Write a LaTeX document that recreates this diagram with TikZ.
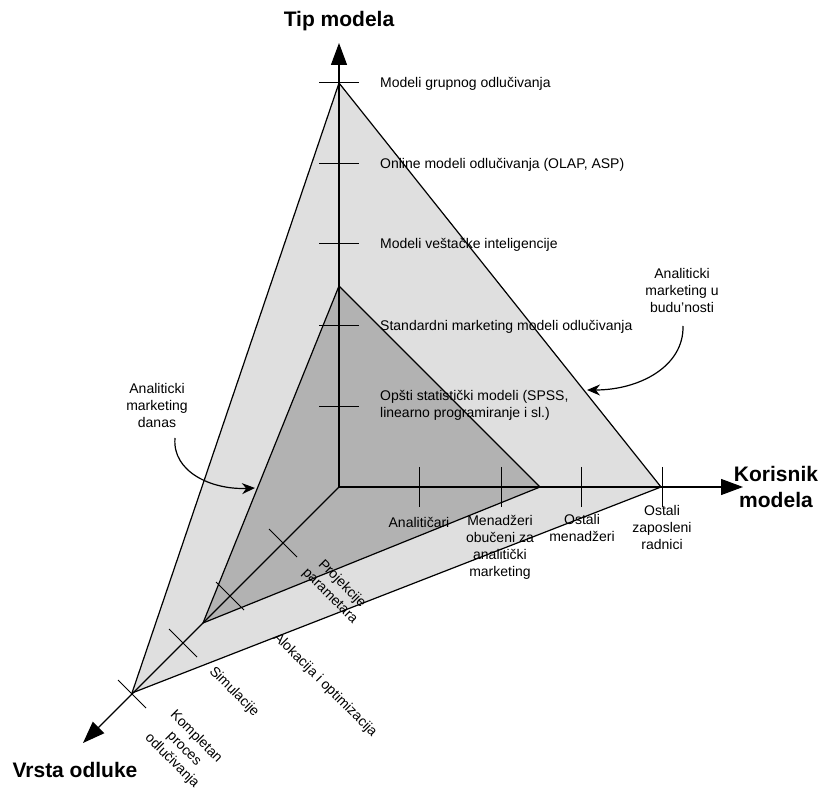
\documentclass[tikz,border=0pt]{standalone}
\usepackage{fontspec}
\setmainfont{Liberation Sans}
\usetikzlibrary{arrows.meta}

\begin{document}
\begin{tikzpicture}[x=1pt, y=-1pt,
    axis/.style={line width=1.3pt, -{Triangle[length=22pt, width=16pt]}},
    edge/.style={line width=1.2pt},
    tick/.style={line width=1pt},
    lbl/.style={font=\fontsize{14}{17}\selectfont, inner sep=0pt, align=center},
    title/.style={font=\fontsize{21}{26}\selectfont\bfseries, inner sep=0pt, align=center},
    callout/.style={line width=1.2pt, -{Stealth[length=13pt, width=11pt]}},
    ]
  \useasboundingbox (0,0) rectangle (820,791);

  % Corners
  \coordinate (O) at (339,487);
  \coordinate (topT) at (339,83);
  \coordinate (rightT) at (661,487);
  \coordinate (leftT) at (132,693);
  \coordinate (topI) at (339,286);
  \coordinate (rightI) at (540,487);
  \coordinate (leftI) at (203,623);
  \coordinate (tipY) at (339,43);
  \coordinate (tipX) at (743,487);
  \coordinate (tipD) at (83,743);

  % Triangles
  \filldraw[edge, fill=gray!25] (topT) -- (rightT) -- (leftT) -- cycle;
  \filldraw[edge, fill=gray!60] (topI) -- (rightI) -- (leftI) -- cycle;

  % Axes
  \draw[axis] (O) -- (tipY);
  \draw[axis] (O) -- (tipX);
  \draw[axis] (O) -- (tipD);

  % Ticks
  \foreach \y in {83,164,244,326,407}
    \draw[tick] (319,\y) -- (359,\y);
  \foreach \x in {419,501,581,662}
    \draw[tick] (\x,467) -- (\x,507);
  \foreach \d in {56,109,156,207}
    \draw[tick] (325-\d,473+\d) -- (353-\d,501+\d);

  % Titles
  \node (tip) [title] at (339,21) {Tip modela};
  \node (korisnik) [title] at (776,487) {Korisnik\\modela};
  \node (vrsta) [title] at (75,770) {Vrsta odluke};

  % Tip modela
  \node (grupni) [lbl, anchor=base west] at (380,88) {Modeli grupnog odlučivanja};
  \node (online) [lbl, anchor=base west] at (380,169) {Online modeli odlučivanja (OLAP, ASP)};
  \node (ai) [lbl, anchor=base west] at (380,249) {Modeli veštačke inteligencije};
  \node (standard) [lbl, anchor=base west] at (380,331) {Standardni marketing modeli odlučivanja};
  \node (opsti) [lbl, anchor=west, align=left] at (380,405) {Opšti statistički modeli (SPSS,\\linearno programiranje i sl.)};

  % Korisnik modela
  \node (analiticari) [lbl] at (419,522) {Analitičari};
  \node (obuceni) [lbl] at (500,547) {Menadžeri\\obučeni za\\analitički\\marketing};
  \node (ostaliM) [lbl] at (582,528) {Ostali\\menadžeri};
  \node (ostaliR) [lbl] at (662,527) {Ostali\\zaposleni\\radnici};

  % Vrsta odluke
  \node (projekcije) [lbl, rotate=-45] at (336,590) {Projekcije\\parametara};
  \node (alokacija) [lbl, rotate=-45] at (325,685) {Alokacija i optimizacija};
  \node (simulacije) [lbl, rotate=-45] at (234,692) {Simulacije};
  \node (kompletan) [lbl, rotate=-45] at (184,749) {Kompletan\\proces\\odlučivanja};

  % Callouts
  \node (danas) [lbl] at (157,405) {Analiticki\\marketing\\danas};
  \node (buducnost) [lbl] at (682,290) {Analiticki\\marketing u\\budu’nosti};
  \coordinate (danasTip) at (255,488);
  \coordinate (buduTip) at (587,390);
  \draw[callout] (175,438) .. controls (172,472) and (212,490) .. (danasTip);
  \draw[callout] (683,326) .. controls (684,366) and (640,390) .. (buduTip);
\end{tikzpicture}
\end{document}
